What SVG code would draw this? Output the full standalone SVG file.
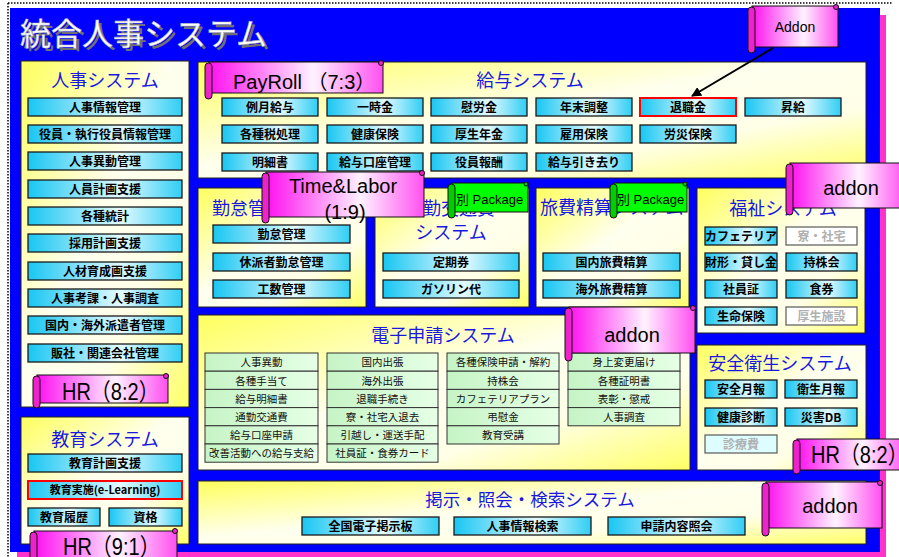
<svg xmlns="http://www.w3.org/2000/svg" width="899" height="557" viewBox="0 0 899 557">
<defs>
<linearGradient id="gY" x1="0" y1="0" x2="1" y2="1">
<stop offset="0" stop-color="#FFFF5E"/><stop offset="0.45" stop-color="#FFFFEE"/><stop offset="0.7" stop-color="#FFFFE8"/><stop offset="1" stop-color="#FFFF66"/>
</linearGradient>
<linearGradient id="gC" x1="0" y1="0" x2="1" y2="0">
<stop offset="0" stop-color="#18C6F2"/><stop offset="0.6" stop-color="#E4FAFF"/><stop offset="1" stop-color="#30CEF4"/>
</linearGradient>
<linearGradient id="gG" x1="0" y1="0" x2="1" y2="0">
<stop offset="0" stop-color="#C6F4C6"/><stop offset="1" stop-color="#E6FFE6"/>
</linearGradient>
<linearGradient id="gM" x1="0" y1="0" x2="1" y2="0">
<stop offset="0" stop-color="#FF10F0"/><stop offset="0.6" stop-color="#FFF2FF"/><stop offset="1" stop-color="#FF50F0"/>
</linearGradient>
<marker id="ah" viewBox="0 0 10 10" refX="9" refY="5" markerWidth="5" markerHeight="5" orient="auto">
<path d="M0,0 L10,5 L0,10 Z" fill="#000"/>
</marker>
<style>
.panel{fill:url(#gY);stroke:#222;stroke-width:1}
.btn{fill:url(#gC);stroke:#1a1a1a;stroke-width:1.3}
.red{stroke:#FF0000;stroke-width:2}
.dis{fill:#FFFFFF;stroke:#666;stroke-width:1.3}
.dis2{fill:#DDFDFF;stroke:#666;stroke-width:1.3}
.bt{font-family:"Noto Sans CJK JP",sans-serif;font-size:12px;font-weight:700;fill:#000;text-anchor:middle}
.dt{font-family:"Noto Sans CJK JP",sans-serif;font-size:12px;font-weight:700;fill:#B0B0B0;text-anchor:middle}
.li{fill:url(#gG);stroke:#333;stroke-width:1}
.lt{font-family:"Noto Sans CJK JP",sans-serif;font-size:10.5px;fill:#111;text-anchor:middle}
.ttl{font-family:"Noto Sans CJK JP",sans-serif;font-size:18px;fill:#1818E0;text-anchor:middle}
.scr{fill:url(#gM);stroke:#111;stroke-width:1}
.roll{fill:#EE22CC;stroke:#111;stroke-width:1}
.gscr{fill:#00FF00;stroke:#111;stroke-width:1}
.groll{fill:#00CC00;stroke:#111;stroke-width:1}
.st{font-family:"Liberation Sans","Noto Sans CJK JP",sans-serif;font-size:20px;fill:#000}
</style>
</defs>
<rect x="0" y="0" width="899" height="557" fill="#FFFFFF"/>
<g id="frame">
<line x1="8" y1="3" x2="893" y2="3" stroke="#000" stroke-width="1.5" stroke-dasharray="1.5 1.5"/>
<line x1="8" y1="3" x2="8" y2="557" stroke="#000" stroke-width="1.5" stroke-dasharray="1.5 1.5"/>
<rect x="17" y="15" width="869" height="542" fill="#FF33CC"/>
<rect x="10" y="8" width="870" height="544" fill="#0000FF"/>
<text x="23" y="48" font-family="'Noto Sans CJK JP',sans-serif" font-size="31" fill="#707070">統合人事システム</text>
<text x="20" y="45" font-family="'Noto Sans CJK JP',sans-serif" font-size="31" fill="#FFFFFF" stroke="#B8B8B8" stroke-width="0.6">統合人事システム</text>
</g>

<g id="jinji">
<rect class="panel" x="21" y="61" width="168" height="346"/>
<text class="ttl" x="105" y="87">人事システム</text>
<rect class="btn" x="28" y="98" width="154" height="18"/><text class="bt" x="105" y="111.6">人事情報管理</text>
<rect class="btn" x="28" y="125" width="154" height="18"/><text class="bt" x="105" y="138.6">役員・執行役員情報管理</text>
<rect class="btn" x="28" y="152" width="154" height="18"/><text class="bt" x="105" y="165.6">人事異動管理</text>
<rect class="btn" x="28" y="180" width="154" height="18"/><text class="bt" x="105" y="193.6">人員計画支援</text>
<rect class="btn" x="28" y="207" width="154" height="18"/><text class="bt" x="105" y="220.6">各種統計</text>
<rect class="btn" x="28" y="234" width="154" height="18"/><text class="bt" x="105" y="247.6">採用計画支援</text>
<rect class="btn" x="28" y="262" width="154" height="18"/><text class="bt" x="105" y="275.6">人材育成画支援</text>
<rect class="btn" x="28" y="289" width="154" height="18"/><text class="bt" x="105" y="302.6">人事考課・人事調査</text>
<rect class="btn" x="28" y="316" width="154" height="18"/><text class="bt" x="105" y="329.6">国内・海外派遣者管理</text>
<rect class="btn" x="28" y="344" width="154" height="18"/><text class="bt" x="105" y="357.6">販社・関連会社管理</text>
</g>

<g id="kyoiku">
<rect class="panel" x="21" y="417" width="168" height="127"/>
<text class="ttl" x="105" y="446">教育システム</text>
<rect class="btn" x="28" y="454" width="154" height="18"/><text class="bt" x="105" y="467.6">教育計画支援</text>
<rect class="btn red" x="28" y="481" width="154" height="18"/><text class="bt" x="105" y="494.4" style="font-size:11px">教育実施(e-Learning)</text>
<rect class="btn" x="28" y="508" width="72" height="18"/><text class="bt" x="64" y="521.6">教育履歴</text>
<rect class="btn" x="109" y="508" width="73" height="18"/><text class="bt" x="145.5" y="521.6">資格</text>
</g>

<g id="kyuyo">
<rect class="panel" x="198" y="62" width="668" height="116"/>
<text class="ttl" x="530" y="86.5">給与システム</text>
<rect class="btn" x="222" y="98" width="96" height="18"/><text class="bt" x="270" y="111.6">例月給与</text>
<rect class="btn" x="327" y="98" width="96" height="18"/><text class="bt" x="375" y="111.6">一時金</text>
<rect class="btn" x="431" y="98" width="96" height="18"/><text class="bt" x="479" y="111.6">慰労金</text>
<rect class="btn" x="536" y="98" width="96" height="18"/><text class="bt" x="584" y="111.6">年末調整</text>
<rect class="btn red" x="640" y="98" width="96" height="18"/><text class="bt" x="688" y="111.6">退職金</text>
<rect class="btn" x="745" y="98" width="96" height="18"/><text class="bt" x="793" y="111.6">昇給</text>
<rect class="btn" x="222" y="125" width="96" height="18"/><text class="bt" x="270" y="138.6">各種税処理</text>
<rect class="btn" x="327" y="125" width="96" height="18"/><text class="bt" x="375" y="138.6">健康保険</text>
<rect class="btn" x="431" y="125" width="96" height="18"/><text class="bt" x="479" y="138.6">厚生年金</text>
<rect class="btn" x="536" y="125" width="96" height="18"/><text class="bt" x="584" y="138.6">雇用保険</text>
<rect class="btn" x="640" y="125" width="96" height="18"/><text class="bt" x="688" y="138.6">労災保険</text>
<rect class="btn" x="222" y="153" width="96" height="18"/><text class="bt" x="270" y="166.6">明細書</text>
<rect class="btn" x="327" y="153" width="96" height="18"/><text class="bt" x="375" y="166.6">給与口座管理</text>
<rect class="btn" x="431" y="153" width="96" height="18"/><text class="bt" x="479" y="166.6">役員報酬</text>
<rect class="btn" x="536" y="153" width="96" height="18"/><text class="bt" x="584" y="166.6">給与引き去り</text>
</g>

<g id="kintai">
<rect class="panel" x="198" y="188" width="168" height="119"/>
<text class="ttl" x="212" y="215" style="text-anchor:start">勤怠管理システム</text>
<rect class="btn" x="213" y="225" width="137" height="18"/><text class="bt" x="281.5" y="238.6">勤怠管理</text>
<rect class="btn" x="213" y="253" width="137" height="18"/><text class="bt" x="281.5" y="266.6">休派者勤怠管理</text>
<rect class="btn" x="213" y="280" width="137" height="18"/><text class="bt" x="281.5" y="293.6">工数管理</text>
</g>

<g id="tsukin">
<rect class="panel" x="375" y="188" width="154" height="119"/>
<text class="ttl" x="450" y="215">通勤交通費</text>
<text class="ttl" x="451" y="238.5">システム</text>
<rect class="btn" x="383" y="253" width="136" height="18"/><text class="bt" x="451" y="266.6">定期券</text>
<rect class="btn" x="383" y="280" width="136" height="18"/><text class="bt" x="451" y="293.6">ガソリン代</text>
</g>

<g id="ryohi">
<rect class="panel" x="536" y="188" width="153" height="119"/>
<text class="ttl" x="540" y="213.5" style="text-anchor:start">旅費精算システム</text>
<rect class="btn" x="543" y="253" width="137" height="18"/><text class="bt" x="611.5" y="266.6">国内旅費精算</text>
<rect class="btn" x="543" y="280" width="137" height="18"/><text class="bt" x="611.5" y="293.6">海外旅費精算</text>
</g>

<g id="fukushi">
<rect class="panel" x="697" y="188" width="168" height="145"/>
<text class="ttl" x="783" y="215">福祉システム</text>
<rect class="btn" x="705" y="227" width="72" height="18"/><text class="bt" x="741" y="240.6">カフェテリア</text>
<rect class="dis" x="786" y="227" width="71" height="18"/><text class="dt" x="821.5" y="240.6">寮・社宅</text>
<rect class="btn" x="705" y="253" width="72" height="18"/><text class="bt" x="741" y="266.6">財形・貸し金</text>
<rect class="btn" x="786" y="253" width="71" height="18"/><text class="bt" x="821.5" y="266.6">持株会</text>
<rect class="btn" x="705" y="280" width="72" height="18"/><text class="bt" x="741" y="293.6">社員証</text>
<rect class="btn" x="786" y="280" width="71" height="18"/><text class="bt" x="821.5" y="293.6">食券</text>
<rect class="btn" x="705" y="307" width="72" height="18"/><text class="bt" x="741" y="320.6">生命保険</text>
<rect class="dis" x="786" y="307" width="71" height="18"/><text class="dt" x="821.5" y="320.6">厚生施設</text>
</g>

<g id="denshi">
<rect class="panel" x="198" y="315" width="492" height="155"/>
<text class="ttl" x="443" y="341.5">電子申請システム</text>
<rect class="li" x="205" y="353" width="113" height="18.2"/><text class="lt" x="261.5" y="366.3">人事異動</text>
<rect class="li" x="205" y="371.2" width="113" height="18.2"/><text class="lt" x="261.5" y="384.5">各種手当て</text>
<rect class="li" x="205" y="389.4" width="113" height="18.2"/><text class="lt" x="261.5" y="402.7">給与明細書</text>
<rect class="li" x="205" y="407.6" width="113" height="18.2"/><text class="lt" x="261.5" y="420.9">通勤交通費</text>
<rect class="li" x="205" y="425.8" width="113" height="18.2"/><text class="lt" x="261.5" y="439.1">給与口座申請</text>
<rect class="li" x="205" y="444" width="113" height="18.2"/><text class="lt" x="261.5" y="457.3">改善活動への給与支給</text>
<rect class="li" x="327" y="353" width="111" height="18.2"/><text class="lt" x="382.5" y="366.3">国内出張</text>
<rect class="li" x="327" y="371.2" width="111" height="18.2"/><text class="lt" x="382.5" y="384.5">海外出張</text>
<rect class="li" x="327" y="389.4" width="111" height="18.2"/><text class="lt" x="382.5" y="402.7">退職手続き</text>
<rect class="li" x="327" y="407.6" width="111" height="18.2"/><text class="lt" x="382.5" y="420.9">寮・社宅入退去</text>
<rect class="li" x="327" y="425.8" width="111" height="18.2"/><text class="lt" x="382.5" y="439.1">引越し・運送手配</text>
<rect class="li" x="327" y="444" width="111" height="18.2"/><text class="lt" x="382.5" y="457.3">社員証・食券カード</text>
<rect class="li" x="447" y="353" width="112" height="18.2"/><text class="lt" x="503" y="366.3">各種保険申請・解約</text>
<rect class="li" x="447" y="371.2" width="112" height="18.2"/><text class="lt" x="503" y="384.5">持株会</text>
<rect class="li" x="447" y="389.4" width="112" height="18.2"/><text class="lt" x="503" y="402.7">カフェテリアプラン</text>
<rect class="li" x="447" y="407.6" width="112" height="18.2"/><text class="lt" x="503" y="420.9">弔慰金</text>
<rect class="li" x="447" y="425.8" width="112" height="18.2"/><text class="lt" x="503" y="439.1">教育受講</text>
<rect class="li" x="568" y="353" width="112" height="18.2"/><text class="lt" x="624" y="366.3">身上変更届け</text>
<rect class="li" x="568" y="371.2" width="112" height="18.2"/><text class="lt" x="624" y="384.5">各種証明書</text>
<rect class="li" x="568" y="389.4" width="112" height="18.2"/><text class="lt" x="624" y="402.7">表彰・懲戒</text>
<rect class="li" x="568" y="407.6" width="112" height="18.2"/><text class="lt" x="624" y="420.9">人事調査</text>
</g>

<g id="anzen">
<rect class="panel" x="697" y="345" width="169" height="125"/>
<text class="ttl" x="780" y="370">安全衛生システム</text>
<rect class="btn" x="705" y="380" width="72" height="18"/><text class="bt" x="741" y="393.6">安全月報</text>
<rect class="btn" x="785" y="380" width="72" height="18"/><text class="bt" x="821" y="393.6">衛生月報</text>
<rect class="btn" x="705" y="408" width="72" height="18"/><text class="bt" x="741" y="421.6">健康診断</text>
<rect class="btn" x="785" y="408" width="72" height="18"/><text class="bt" x="821" y="421.6">災害DB</text>
<rect class="dis2" x="705" y="435" width="72" height="18"/><text class="dt" x="741" y="448.6">診療費</text>
</g>

<g id="keiji">
<rect class="panel" x="198" y="481" width="668" height="63"/>
<text class="ttl" x="530" y="506" style="font-size:17.5px">掲示・照会・検索システム</text>
<rect class="btn" x="302" y="517" width="137" height="18"/><text class="bt" x="370.5" y="530.6">全国電子掲示板</text>
<rect class="btn" x="454" y="517" width="137" height="18"/><text class="bt" x="522.5" y="530.6">人事情報検索</text>
<rect class="btn" x="608" y="517" width="137" height="18"/><text class="bt" x="676.5" y="530.6">申請内容照会</text>
</g>

<g id="scroll-payroll">
<rect class="scr" x="209" y="62" width="174" height="31"/>
<rect class="roll" x="205" y="63" width="7" height="36" rx="3.5"/>
<circle class="roll" cx="381" cy="63" r="2.5"/>
<text class="st" x="233" y="89">PayRoll （7:3）</text>
</g>

<g id="scroll-timelabor">
<rect class="scr" x="266" y="172" width="158" height="45"/>
<rect class="roll" x="262" y="173" width="7" height="50" rx="3.5"/>
<circle class="roll" cx="422" cy="173" r="2.5"/>
<text class="st" x="343" y="193" text-anchor="middle">Time&amp;Labor</text>
<text class="st" x="345" y="219" text-anchor="middle">(1:9)</text>
</g>

<g id="scroll-pkg1">
<rect class="gscr" x="452" y="183" width="76" height="29"/>
<rect class="groll" x="448" y="184" width="7" height="34" rx="3.5"/>
<circle class="groll" cx="526" cy="184" r="2"/>
<text class="st" x="456" y="204" style="font-size:13px">別 Package</text>
</g>

<g id="scroll-pkg2">
<rect class="gscr" x="614" y="183" width="73" height="29"/>
<rect class="groll" x="610" y="184" width="7" height="34" rx="3.5"/>
<circle class="groll" cx="685" cy="184" r="2"/>
<text class="st" x="617" y="204" style="font-size:13px">別 Package</text>
</g>

<g id="scroll-addon-fukushi">
<rect class="scr" x="790" y="163" width="115" height="45"/>
<rect class="roll" x="786" y="164" width="7" height="51" rx="3.5"/>
<text class="st" x="851" y="195" text-anchor="middle">addon</text>
</g>

<g id="scroll-addon-denshi">
<rect class="scr" x="569" y="307" width="126" height="46"/>
<rect class="roll" x="565" y="308" width="7" height="53" rx="3.5"/>
<circle class="roll" cx="693" cy="308" r="2.5"/>
<text class="st" x="632" y="342" text-anchor="middle">addon</text>
</g>

<g id="scroll-hr82-left">
<rect class="scr" x="37" y="375" width="131" height="28"/>
<rect class="roll" x="33" y="376" width="7" height="32" rx="3.5"/>
<circle class="roll" cx="166" cy="376" r="2.5"/>
<text class="st" transform="translate(62,400) scale(1,1.2)">HR（8:2）</text>
</g>

<g id="scroll-hr82-right">
<rect class="scr" x="797" y="439" width="110" height="31"/>
<rect class="roll" x="793" y="440" width="7" height="34" rx="3.5"/>
<text class="st" transform="translate(811,463) scale(1,1.2)">HR（8:2）</text>
</g>

<g id="scroll-addon-keiji">
<rect class="scr" x="766" y="482" width="116" height="46"/>
<rect class="roll" x="762" y="483" width="7" height="53" rx="3.5"/>
<circle class="roll" cx="880" cy="483" r="2.5"/>
<text class="st" x="830" y="513" text-anchor="middle">addon</text>
</g>

<g id="scroll-hr91">
<rect class="scr" x="34" y="531" width="143" height="32"/>
<rect class="roll" x="30" y="532" width="7" height="32" rx="3.5"/>
<circle class="roll" cx="175" cy="531" r="2.5"/>
<text class="st" transform="translate(63,555) scale(1,1.2)">HR（9:1）</text>
</g>

<g id="scroll-addon-top">
<rect class="scr" x="752" y="6" width="86" height="41"/>
<rect class="roll" x="748" y="7" width="7" height="46" rx="3.5"/>
<circle class="roll" cx="836" cy="7" r="2.5"/>
<text class="st" x="795" y="32" text-anchor="middle" style="font-size:14px">Addon</text>
</g>

<g id="connectors">
<line x1="773" y1="48" x2="692" y2="96" stroke="#000" stroke-width="2" marker-end="url(#ah)"/>
</g>
</svg>
